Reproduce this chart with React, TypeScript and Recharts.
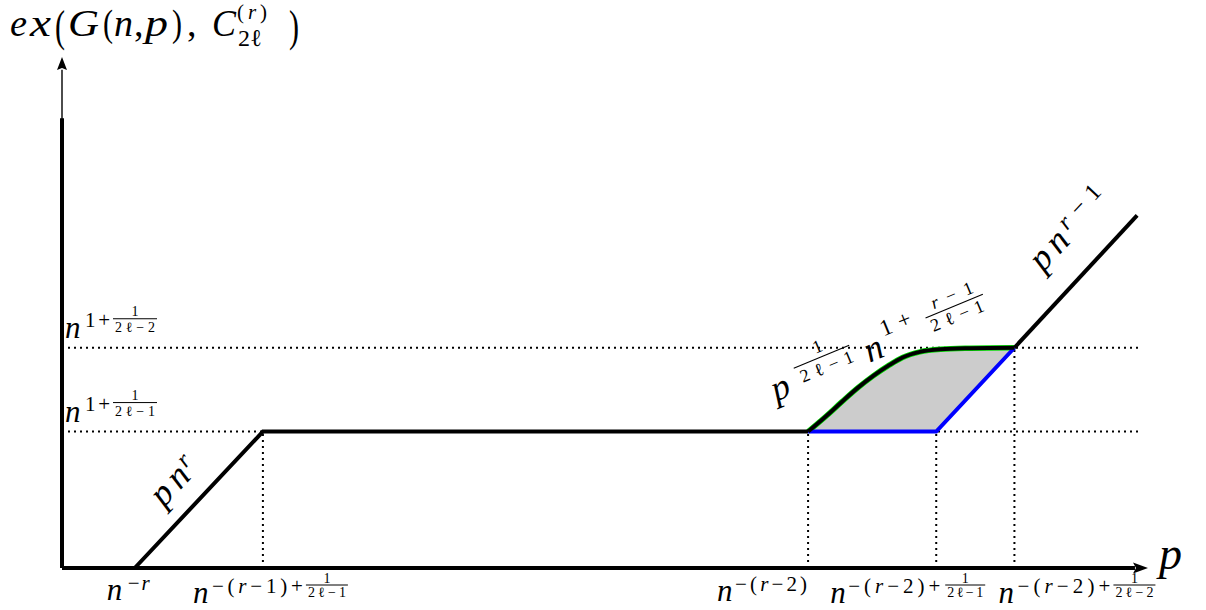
import React from 'react';
import { ComposedChart, Line, Area, XAxis, YAxis, ReferenceDot } from 'recharts';

const FONT = "'Liberation Serif', 'DejaVu Serif', serif";

// ---- data (chart units: x and y both on 0..100) ----
const levelLow = 26.7;   // n^{1+1/(2l-1)}
const levelHigh = 43.1;  // n^{1+1/(2l-2)}

const xTicks = [6.7, 18.5, 68.7, 80.5, 87.7];
const xTickSups = ['−r', '−(r−1)+', '−(r−2)', '−(r−2)+', '−(r−2)+'];
const xTickDens = ['', '2ℓ−1', '', '2ℓ−1', '2ℓ−2'];

const yTicks = [levelLow, levelHigh];
const yTickDens = ['2ℓ−1', '2ℓ−2'];

const rampLine = [
  { x: 6.7, y: 0 },
  { x: 18.5, y: 26.7 },
  { x: 68.7, y: 26.7 },
];
const upperCurve = [
  { x: 68.7, y: 26.7 },
  { x: 70.3, y: 29.6 },
  { x: 71.8, y: 32.5 },
  { x: 73.3, y: 35.3 },
  { x: 74.7, y: 37.6 },
  { x: 76.1, y: 39.6 },
  { x: 77.4, y: 41.2 },
  { x: 79.0, y: 42.3 },
  { x: 80.9, y: 42.8 },
  { x: 83.6, y: 43.0 },
  { x: 87.7, y: 43.1 },
];
const topLine = [
  { x: 87.7, y: 43.1 },
  { x: 99.0, y: 69.0 },
];
const blueLine = [
  { x: 68.7, y: 26.7 },
  { x: 80.5, y: 26.7 },
  { x: 87.7, y: 43.1 },
];
const fillBand = [
  { x: 68.7, range: [26.7, 26.7] },
  { x: 70.3, range: [26.7, 29.6] },
  { x: 71.8, range: [26.7, 32.5] },
  { x: 73.3, range: [26.7, 35.3] },
  { x: 74.7, range: [26.7, 37.6] },
  { x: 76.1, range: [26.7, 39.6] },
  { x: 77.4, range: [26.7, 41.2] },
  { x: 79.0, range: [26.7, 42.3] },
  { x: 80.5, range: [26.7, 42.7] },
  { x: 80.9, range: [27.6, 42.8] },
  { x: 83.6, range: [33.8, 43.0] },
  { x: 87.7, range: [43.1, 43.1] },
];
const dotH1 = [{ x: 0, y: 26.7 }, { x: 99.3, y: 26.7 }];
const dotH2 = [{ x: 0, y: 43.1 }, { x: 99.3, y: 43.1 }];
const dotV1 = [{ x: 18.5, y: 0 }, { x: 18.5, y: 26.7 }];
const dotV2 = [{ x: 68.7, y: 0 }, { x: 68.7, y: 26.7 }];
const dotV3 = [{ x: 80.5, y: 0 }, { x: 80.5, y: 26.7 }];
const dotV4 = [{ x: 87.7, y: 0 }, { x: 87.7, y: 43.1 }];
const xAxisLine = [{ x: 0, y: 0 }, { x: 98.8, y: 0 }];
const yAxisThin = [{ x: 0, y: 0 }, { x: 0, y: 97.5 }];
const yAxisThick = [{ x: 0, y: 0 }, { x: 0, y: 88 }];

// ---- label layout (pixel offsets, style only) ----
const xTickLayout = [
  { nx: -28, yb: 32, sx: -7, sl: 22 },
  { nx: -70, yb: 35, sx: -51, sl: 91, fc: 64, fw: 42 },
  { nx: -91, yb: 33, sx: -73, sl: 72 },
  { nx: -106, yb: 35, sx: -88, sl: 92, fc: 29, fw: 40 },
  { nx: -16, yb: 35, sx: 3, sl: 93, fc: 120, fw: 42 },
];

const M = (s: string) =>
  s.split('').map((ch, i) =>
    /[a-zA-Z]/.test(ch) ? (
      <tspan key={i} fontStyle="italic">{ch}</tspan>
    ) : (
      <tspan key={i}>{ch}</tspan>
    )
  );

const XTick = (props: any) => {
  const { x, y } = props;
  let index = props.index;
  if (index === undefined || index === null) index = xTicks.indexOf(props.payload?.value);
  const L = xTickLayout[index];
  if (!L) return null;
  const den = xTickDens[index];
  return (
    <g fontFamily={FONT} fill="#000">
      <text x={x + L.nx} y={y + L.yb} fontSize={31} fontStyle="italic">n</text>
      <text x={x + L.sx} y={y + L.yb - 10} fontSize={21} textLength={L.sl} lengthAdjust="spacing">
        {M(xTickSups[index])}
      </text>
      {den && L.fc !== undefined && (
        <g>
          <line x1={x + L.fc - L.fw / 2} x2={x + L.fc + L.fw / 2} y1={y + 17} y2={y + 17} stroke="#000" strokeWidth={1} />
          <text x={x + L.fc} y={y + 14.5} fontSize={14} textAnchor="middle">1</text>
          <text x={x + L.fc} y={y + 29} fontSize={14} textAnchor="middle" textLength={L.fw - 4} lengthAdjust="spacing">
            {M(den)}
          </text>
        </g>
      )}
    </g>
  );
};

const YTick = (props: any) => {
  const { x, y } = props;
  let index = props.index;
  if (index === undefined || index === null) index = yTicks.indexOf(props.payload?.value);
  const den = yTickDens[index];
  if (!den) return null;
  return (
    <g fontFamily={FONT} fill="#000">
      <text x={x + 3} y={y - 10} fontSize={31} fontStyle="italic">n</text>
      <text x={x + 23} y={y - 21} fontSize={21} textLength={25} lengthAdjust="spacing">1+</text>
      <line x1={x + 51} x2={x + 95} y1={y - 29} y2={y - 29} stroke="#000" strokeWidth={1} />
      <text x={x + 73} y={y - 32} fontSize={14} textAnchor="middle">1</text>
      <text x={x + 73} y={y - 16} fontSize={14} textAnchor="middle" textLength={40} lengthAdjust="spacing">
        {M(den)}
      </text>
    </g>
  );
};

const TitleShape = (p: any) => {
  const { cx, cy } = p;
  const b = cy - 21;
  const t = (dx: number, s: string, size: number, it: boolean, len?: number, by: number = b) => (
    <text
      x={cx + dx}
      y={by}
      fontSize={size}
      fontStyle={it ? 'italic' : 'normal'}
      {...(len ? { textLength: len, lengthAdjust: 'spacingAndGlyphs' } : {})}
    >
      {s}
    </text>
  );
  return (
    <g fontFamily={FONT} fill="#000">
      {t(-52, 'e', 38, true, 17)}
      {t(-32, 'x', 38, true, 21)}
      {t(-7, '(', 44, false, 10, b + 5)}
      {t(6, 'G', 38, true, 31)}
      {t(41, '(', 38, false, 10)}
      {t(52, 'n', 38, true, 19)}
      {t(72, ',', 38, false)}
      {t(83, 'p', 38, true, 23)}
      {t(110, ')', 38, false, 10)}
      {t(125, ',', 38, false)}
      {t(150, 'C', 38, true, 24)}
      <text x={cx + 175} y={cy - 38} fontSize={21} textLength={30} lengthAdjust="spacing">{M('(r)')}</text>
      <text x={cx + 176} y={cy - 11} fontSize={24}>{M('2ℓ')}</text>
      {t(227, ')', 44, false, 10, b + 5)}
    </g>
  );
};

const PLabel = (p: any) => (
  <text x={p.cx + 11} y={p.cy + 1} fontSize={46} fontStyle="italic" fontFamily={FONT} fill="#000">p</text>
);

const XArrow = (p: any) => (
  <path d={`M${p.cx},${p.cy} L${p.cx - 15},${p.cy - 5.5} L${p.cx - 12},${p.cy} L${p.cx - 15},${p.cy + 5.5} Z`} fill="#000" />
);
const YArrow = (p: any) => (
  <path d={`M${p.cx},${p.cy} L${p.cx - 5},${p.cy + 13} L${p.cx},${p.cy + 11} L${p.cx + 5},${p.cy + 13} Z`} fill="#000" />
);

const PnrLabel = (p: any) => (
  <g transform={`translate(${p.cx},${p.cy}) rotate(-47)`} fontFamily={FONT} fill="#000">
    <text x={-30} y={-20} fontSize={36} fontStyle="italic" textLength={42} lengthAdjust="spacing">pn</text>
    <text x={14} y={-31} fontSize={24} fontStyle="italic">r</text>
  </g>
);

const Pnr1Label = (p: any) => (
  <g transform={`translate(${p.cx},${p.cy}) rotate(-47)`} fontFamily={FONT} fill="#000">
    <text x={-16} y={-30} fontSize={36} fontStyle="italic" textLength={42} lengthAdjust="spacing">pn</text>
    <text x={31} y={-41} fontSize={24} textLength={52} lengthAdjust="spacing">{M('r−1')}</text>
  </g>
);

const MidLabel = (p: any) => (
  <g transform={`translate(${p.cx},${p.cy}) rotate(-22.5)`} fontFamily={FONT} fill="#000">
    <text x={-18} y={-40} fontSize={36} fontStyle="italic">p</text>
    <line x1={11} x2={71} y1={-64} y2={-64} stroke="#000" strokeWidth={1.1} />
    <text x={41} y={-69} fontSize={18} textAnchor="middle">1</text>
    <text x={42} y={-47} fontSize={18} textAnchor="middle" textLength={56} lengthAdjust="spacing">{M('2ℓ−1')}</text>
    <text x={83} y={-40} fontSize={36} fontStyle="italic">n</text>
    <text x={106} y={-59} fontSize={23} textLength={32} lengthAdjust="spacing">1+</text>
    <line x1={152} x2={214} y1={-60} y2={-60} stroke="#000" strokeWidth={1.1} />
    <text x={185} y={-65} fontSize={18} textAnchor="middle" textLength={44} lengthAdjust="spacing">{M('r−1')}</text>
    <text x={182} y={-44} fontSize={18} textAnchor="middle" textLength={56} lengthAdjust="spacing">{M('2ℓ−1')}</text>
  </g>
);

const dotted = { stroke: '#000', strokeWidth: 2, strokeDasharray: '2 4' };
const common = { dot: false, activeDot: false, isAnimationActive: false, legendType: 'none' as const };

export default function App() {
  return (
    <div style={{ position: 'absolute', left: 0, top: 0, width: 1206, height: 610, background: '#fff' }}>
      <ComposedChart width={1206} height={610} margin={{ top: 57, right: 58, bottom: 12, left: 2 }}>
        <XAxis
          type="number"
          dataKey="x"
          domain={[0, 100]}
          ticks={xTicks}
          interval={0}
          axisLine={false}
          tickLine={false}
          tickSize={0}
          tickMargin={0}
          height={30}
          tick={(p: any) => <XTick {...p} />}
        />
        <YAxis
          type="number"
          domain={[0, 100]}
          ticks={yTicks}
          interval={0}
          axisLine={false}
          tickLine={false}
          tickSize={0}
          tickMargin={0}
          width={60}
          tick={(p: any) => <YTick {...p} />}
        />
        {/* dotted guides */}
        <Line data={dotH1} dataKey="y" type="linear" {...common} {...dotted} />
        <Line data={dotH2} dataKey="y" type="linear" {...common} {...dotted} />
        <Line data={dotV1} dataKey="y" type="linear" {...common} {...dotted} />
        <Line data={dotV2} dataKey="y" type="linear" {...common} {...dotted} />
        <Line data={dotV3} dataKey="y" type="linear" {...common} {...dotted} />
        <Line data={dotV4} dataKey="y" type="linear" {...common} {...dotted} />
        {/* shaded region */}
        <Area data={fillBand} dataKey="range" type="linear" fill="#cccccc" fillOpacity={1} stroke="none" isAnimationActive={false} legendType="none" />
        {/* axes */}
        <Line data={yAxisThin} dataKey="y" type="linear" {...common} stroke="#000" strokeWidth={1.4} />
        <Line data={yAxisThick} dataKey="y" type="linear" {...common} stroke="#000" strokeWidth={4} />
        <Line data={xAxisLine} dataKey="y" type="linear" {...common} stroke="#000" strokeWidth={4} />
        {/* curves */}
        <Line data={upperCurve} dataKey="y" type="monotone" {...common} stroke="#00dd00" strokeWidth={5.5} />
        <Line data={blueLine} dataKey="y" type="linear" {...common} stroke="#0000ff" strokeWidth={4} />
        <Line data={rampLine} dataKey="y" type="linear" {...common} stroke="#000" strokeWidth={4} />
        <Line data={upperCurve} dataKey="y" type="monotone" {...common} stroke="#000" strokeWidth={4} />
        <Line data={topLine} dataKey="y" type="linear" {...common} stroke="#000" strokeWidth={4} />
        {/* arrowheads and labels */}
        <ReferenceDot x={100} y={0} r={0} ifOverflow="visible" shape={(p: any) => <XArrow {...p} />} />
        <ReferenceDot x={0} y={100} r={0} ifOverflow="visible" shape={(p: any) => <YArrow {...p} />} />
        <ReferenceDot x={0} y={100} r={0} ifOverflow="visible" shape={(p: any) => <TitleShape {...p} />} />
        <ReferenceDot x={100} y={0} r={0} ifOverflow="visible" shape={(p: any) => <PLabel {...p} />} />
        <ReferenceDot x={12.6} y={13.35} r={0} ifOverflow="visible" shape={(p: any) => <PnrLabel {...p} />} />
        <ReferenceDot x={93.35} y={56.05} r={0} ifOverflow="visible" shape={(p: any) => <Pnr1Label {...p} />} />
        <ReferenceDot x={68.7} y={26.7} r={0} ifOverflow="visible" shape={(p: any) => <MidLabel {...p} />} />
      </ComposedChart>
    </div>
  );
}
